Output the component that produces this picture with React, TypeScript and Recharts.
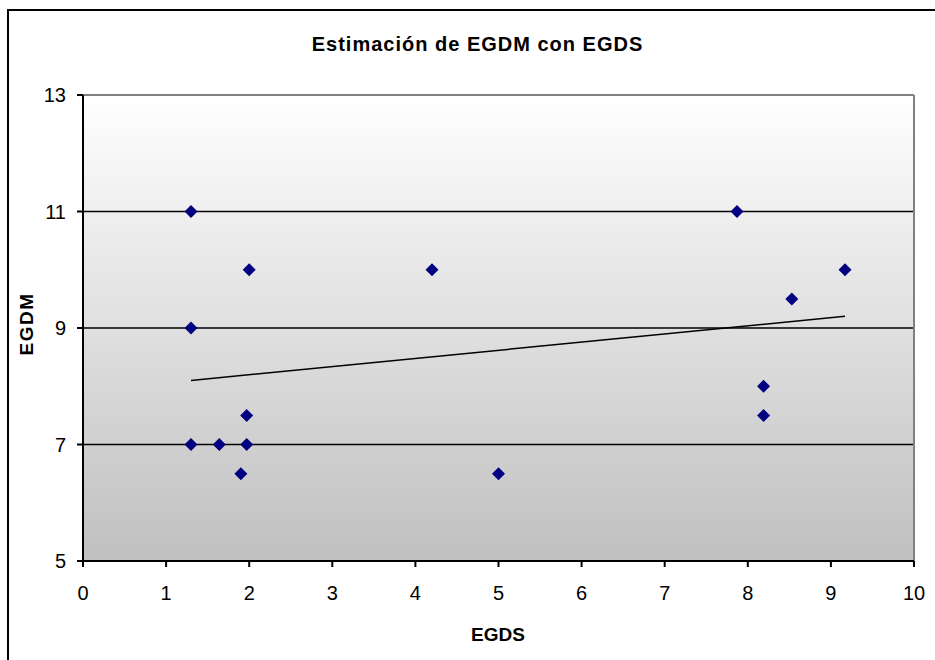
import React from 'react';
import { ScatterChart, Scatter, XAxis, YAxis, CartesianGrid, ReferenceLine } from 'recharts';

const egds = [1.3, 1.3, 1.3, 1.64, 1.9, 1.97, 1.97, 2.0, 4.2, 5.0, 7.87, 8.19, 8.19, 8.53, 9.17];
const egdm = [11, 9, 7, 7, 6.5, 7.5, 7, 10, 10, 6.5, 11, 8, 7.5, 9.5, 10];
const trendX = [1.3, 9.17];
const trendY = [8.1, 9.2];
const xTicks = [0, 1, 2, 3, 4, 5, 6, 7, 8, 9, 10];
const yTicks = [5, 7, 9, 11, 13];
const gridValues = [7, 9, 11];

const points = egds.map((x, i) => ({ x, y: egdm[i] }));
const trend = trendX.map((x, i) => ({ x, y: trendY[i] }));

const FONT = '"Liberation Sans", Arial, sans-serif';

const Diamond = (props: any) => {
  const { cx, cy } = props;
  const r = 6.5;
  return (
    <polygon
      points={`${cx},${cy - r} ${cx + r},${cy} ${cx},${cy + r} ${cx - r},${cy}`}
      fill="#000080"
    />
  );
};

const Nothing = () => <g />;

export default function App() {
  return (
    <div style={{ position: 'absolute', left: 0, top: 0, width: 935, height: 660, background: '#fff', overflow: 'hidden', fontFamily: FONT }}>
      <div style={{ position: 'absolute', left: 7, top: 9, width: 1000, height: 1000, borderLeft: '2px solid #000', borderTop: '2px solid #000' }} />
      <div style={{ position: 'absolute', left: 0, width: 955, top: 34, textAlign: 'center', fontSize: 20, lineHeight: '20px', fontWeight: 'bold', letterSpacing: 1, color: '#000' }}>
        Estimación de EGDM con EGDS
      </div>
      <div style={{ position: 'absolute', left: 0, width: 996, top: 625, textAlign: 'center', fontSize: 19, lineHeight: '19px', fontWeight: 'bold', color: '#000' }}>
        EGDS
      </div>
      <div style={{ position: 'absolute', left: 26.7 - 50, top: 324 - 10, width: 100, height: 20, textAlign: 'center', fontSize: 19, lineHeight: '20px', fontWeight: 'bold', letterSpacing: 1.5, color: '#000', transform: 'rotate(-90deg)' }}>
        EGDM
      </div>
      <div style={{ position: 'absolute', left: 0, top: 0 }}>
        <ScatterChart width={935} height={660} margin={{ top: 95, right: 21, bottom: 39, left: 0 }}>
          <defs>
            <linearGradient id="bgGrad" x1="0" y1="0" x2="0" y2="1">
              <stop offset="0%" stopColor="#ffffff" />
              <stop offset="100%" stopColor="#c0c0c0" />
            </linearGradient>
          </defs>
          <CartesianGrid
            fill="url(#bgGrad)"
            fillOpacity={1}
            vertical={false}
            horizontalValues={gridValues}
            stroke="#000"
            strokeWidth={1.5}
          />
          <XAxis
            type="number"
            dataKey="x"
            domain={[0, 10]}
            ticks={xTicks}
            interval={0}
            height={60}
            tickSize={6}
            tickMargin={19}
            axisLine={{ stroke: '#000', strokeWidth: 2 }}
            tickLine={{ stroke: '#000', strokeWidth: 2 }}
            tick={{ fill: '#000', fontSize: 20, fontFamily: FONT }}
            allowDataOverflow
          />
          <YAxis
            type="number"
            dataKey="y"
            domain={[5, 13]}
            ticks={yTicks}
            interval={0}
            width={83}
            tickSize={6}
            tickMargin={11}
            axisLine={{ stroke: '#000', strokeWidth: 2 }}
            tickLine={{ stroke: '#000', strokeWidth: 2 }}
            tick={{ fill: '#000', fontSize: 20, fontFamily: FONT }}
            allowDataOverflow
          />
          <ReferenceLine y={13} stroke="#808080" strokeWidth={2} />
          <ReferenceLine x={10} stroke="#808080" strokeWidth={2} />
          <Scatter
            data={trend}
            line={{ stroke: '#000', strokeWidth: 1.5 }}
            shape={Nothing}
            isAnimationActive={false}
          />
          <Scatter data={points} shape={Diamond} isAnimationActive={false} />
        </ScatterChart>
      </div>
    </div>
  );
}
